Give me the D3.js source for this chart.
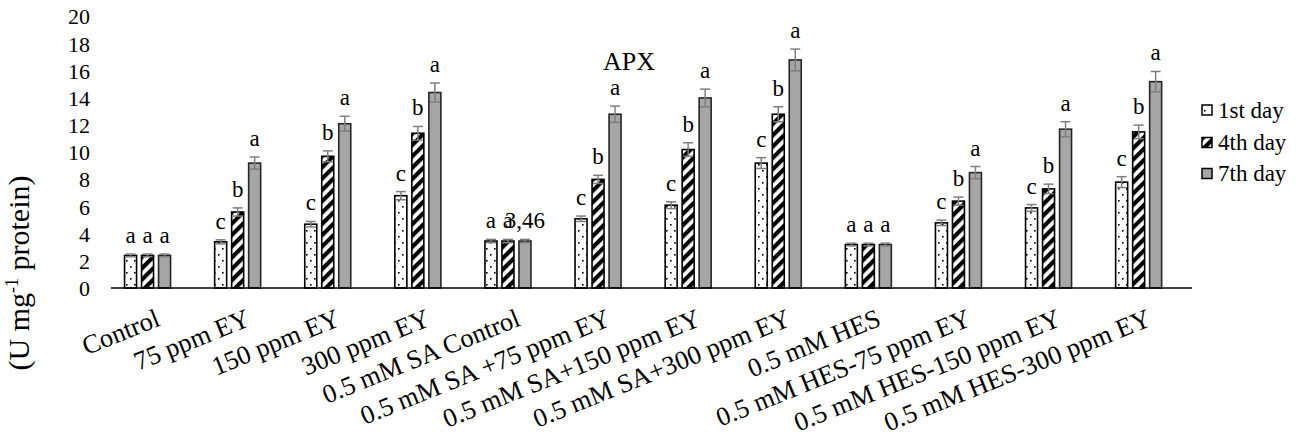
<!DOCTYPE html>
<html>
<head>
<meta charset="utf-8">
<script src="https://cdn.jsdelivr.net/npm/d3@7"></script>
<style>
  body { margin: 0; background: #fff; }
</style>
</head>
<body>
<div id="chart"></div>
<script>
// Data
const categories = ["Control", "75 ppm EY", "150 ppm EY", "300 ppm EY", "0.5 mM SA Control",
  "0.5 mM SA +75 ppm EY", "0.5 mM SA+150 ppm EY", "0.5 mM SA+300 ppm EY", "0.5 mM HES",
  "0.5 mM HES-75 ppm EY", "0.5 mM HES-150 ppm EY", "0.5 mM HES-300 ppm EY"];
const series = ["1st day", "4th day", "7th day"];
const day1 = [2.4, 3.4, 4.7, 6.8, 3.46, 5.1, 6.1, 9.2, 3.2, 4.8, 5.9, 7.8];
const day4 = [2.4, 5.6, 9.7, 11.4, 3.46, 8.0, 10.2, 12.8, 3.2, 6.4, 7.3, 11.5];
const day7 = [2.4, 9.2, 12.1, 14.4, 3.46, 12.8, 14.0, 16.8, 3.2, 8.5, 11.7, 15.2];
const err1 = [0.1, 0.15, 0.2, 0.3, 0.12, 0.2, 0.25, 0.4, 0.1, 0.2, 0.25, 0.4];
const err4 = [0.1, 0.3, 0.4, 0.5, 0.12, 0.3, 0.5, 0.55, 0.1, 0.3, 0.35, 0.5];
const err7 = [0.1, 0.45, 0.55, 0.7, 0.12, 0.6, 0.65, 0.8, 0.1, 0.45, 0.55, 0.75];
const letters1 = ["a", "c", "c", "c", "a", "c", "c", "c", "a", "c", "c", "c"];
const letters4 = ["a", "b", "b", "b", "a", "b", "b", "b", "a", "b", "b", "b"];
const letters7 = ["a", "a", "a", "a", "3,46", "a", "a", "a", "a", "a", "a", "a"];
const yTicks = [0, 2, 4, 6, 8, 10, 12, 14, 16, 18, 20];

const FONT = "'Liberation Serif', 'Times New Roman', serif";
const W = 1304, H = 439;
const svg = d3.select("#chart").append("svg").attr("width", W).attr("height", H)
  .style("font-family", FONT);

// Patterns
const defs = svg.append("defs");
const dots = defs.append("pattern").attr("id", "dots")
  .attr("patternUnits", "userSpaceOnUse").attr("width", 8).attr("height", 12);
dots.append("rect").attr("width", 8).attr("height", 12).attr("fill", "#fff");
dots.append("rect").attr("x", 2).attr("y", 2).attr("width", 1.6).attr("height", 1.6).attr("fill", "#000");
dots.append("rect").attr("x", 6).attr("y", 8).attr("width", 1.6).attr("height", 1.6).attr("fill", "#000");

const stripes = defs.append("pattern").attr("id", "stripes")
  .attr("patternUnits", "userSpaceOnUse").attr("width", 8).attr("height", 8)
  .attr("patternTransform", "rotate(45)");
stripes.append("rect").attr("width", 8).attr("height", 8).attr("fill", "#fff");
stripes.append("rect").attr("width", 4.2).attr("height", 8).attr("fill", "#000");

const fills = { "1st day": "url(#dots)", "4th day": "url(#stripes)", "7th day": "#a6a6a6" };
const strokes = { "1st day": "#000", "4th day": "#000", "7th day": "#262626" };

// Scales
const x = d3.scaleBand().domain(categories).range([102.5, 1183.7]);
const xs = d3.scaleBand().domain(series).range([-23.8, 23.8]).paddingInner(0.2);
const y = d3.scaleLinear().domain([0, 20]).range([288, 16.5]);

// Y tick labels (no axis line)
const yAxis = svg.append("g").attr("transform", "translate(90,0)")
  .call(d3.axisLeft(y).tickValues(yTicks).tickSize(0).tickPadding(0));
yAxis.attr("font-family", null).attr("font-size", null);
yAxis.select(".domain").remove();
yAxis.selectAll("text").style("font-family", FONT).style("font-size", "22px")
  .attr("fill", "#000").attr("dy", "0.34em");

// Rows for drawing
const vals = [day1, day4, day7], errs = [err1, err4, err7], lets = [letters1, letters4, letters7];
const rows = [];
categories.forEach((c, i) => {
  series.forEach((s, k) => {
    rows.push({ cat: c, s: s, v: vals[k][i], e: errs[k][i], l: lets[k][i] });
  });
});
const cx = d => x(d.cat) + x.bandwidth() / 2 + xs(d.s) + xs.bandwidth() / 2;

// Bars
svg.append("g").selectAll("rect").data(rows).join("rect")
  .attr("x", d => cx(d) - xs.bandwidth() / 2 + 0.8)
  .attr("width", xs.bandwidth() - 1.6)
  .attr("y", d => y(d.v))
  .attr("height", d => y(0) - y(d.v))
  .attr("fill", d => fills[d.s])
  .attr("stroke", d => strokes[d.s])
  .attr("stroke-width", 1.6);

// Error bars
const eb = svg.append("g").attr("stroke", "#7f7f7f").attr("stroke-width", 1.5);
eb.selectAll("line.v").data(rows).join("line").attr("class", "v")
  .attr("x1", cx).attr("x2", cx)
  .attr("y1", d => y(d.v - d.e)).attr("y2", d => y(d.v + d.e));
eb.selectAll("line.t").data(rows).join("line").attr("class", "t")
  .attr("x1", d => cx(d) - 5).attr("x2", d => cx(d) + 5)
  .attr("y1", d => y(d.v + d.e)).attr("y2", d => y(d.v + d.e));
eb.selectAll("line.b").data(rows).join("line").attr("class", "b")
  .attr("x1", d => cx(d) - 5).attr("x2", d => cx(d) + 5)
  .attr("y1", d => y(d.v - d.e)).attr("y2", d => y(d.v - d.e));

// Significance letters
svg.append("g").selectAll("text").data(rows).join("text")
  .attr("x", cx)
  .attr("y", d => y(d.v + d.e) - 11)
  .attr("text-anchor", "middle")
  .style("font-family", FONT)
  .style("font-size", "23px")
  .text(d => d.l);

// Baseline
svg.append("line").attr("x1", 111).attr("x2", 1192).attr("y1", y(0)).attr("y2", y(0))
  .attr("stroke", "#000").attr("stroke-width", 1.5);

// X labels (rotated)
svg.append("g").selectAll("text").data(categories).join("text")
  .attr("text-anchor", "end")
  .attr("transform", c => `translate(${x(c) + x.bandwidth() / 2 + 14},325) rotate(-22)`)
  .style("font-family", FONT)
  .style("font-size", "26.5px")
  .text(c => c);

// Title
svg.append("text").attr("x", 629).attr("y", 70).attr("text-anchor", "middle")
  .style("font-family", FONT).style("font-size", "26px").text("APX");

// Y label
const yl = svg.append("text").attr("transform", "translate(29,273) rotate(-90)")
  .attr("text-anchor", "middle").style("font-family", FONT).style("font-size", "30px");
yl.append("tspan").text("(U mg");
yl.append("tspan").attr("dy", "-11").style("font-size", "18px").text("-1");
yl.append("tspan").attr("dy", "11").text(" protein)");

// Legend
const lg = svg.append("g").attr("transform", "translate(1202,0)");
const ly = [110, 142.5, 173.5];
series.forEach((s, k) => {
  lg.append("rect").attr("x", 0).attr("y", ly[k] - 5).attr("width", 10).attr("height", 10)
    .attr("fill", fills[s]).attr("stroke", "#000").attr("stroke-width", 1.5);
  lg.append("text").attr("x", 16).attr("y", ly[k]).attr("dy", "0.34em")
    .style("font-family", FONT).style("font-size", "23px").text(s);
});
</script>
</body>
</html>
